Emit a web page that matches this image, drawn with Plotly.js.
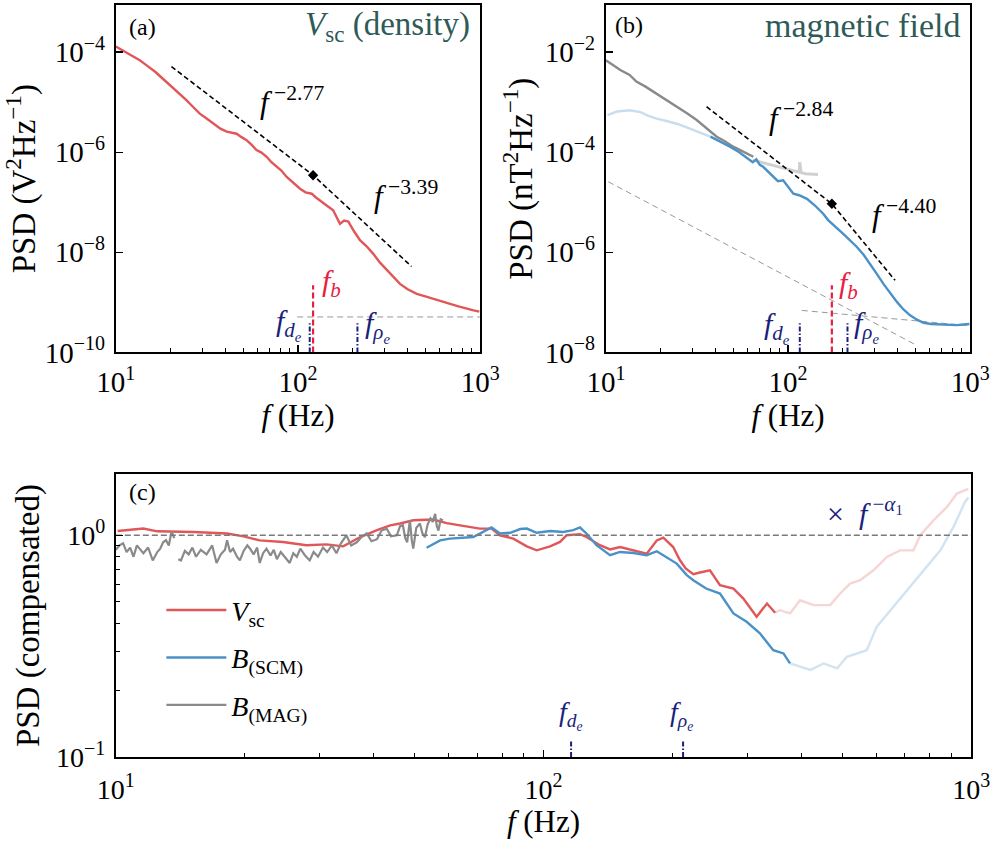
<!DOCTYPE html>
<html><head><meta charset="utf-8">
<script src="https://cdn.plot.ly/plotly-3.0.1.min.js"></script>
<style>html,body{margin:0;padding:0;background:#fff}#chart{width:990px;height:841px}</style>
</head><body><div id="chart"></div>
<script>
// ---------- Panel (a): V_sc PSD ----------
const fA = [10, 11.2, 12.5, 13.6, 14.7, 16.5, 18, 19.8, 22, 24.4, 26.5, 28.9, 31.5, 34.3, 37.5, 40.6, 43, 46, 49, 52.2, 55.5, 59.2, 63, 67.3, 71.5, 76.3, 81, 86.7, 94, 102.6, 110, 118.9, 125, 132, 143, 156, 163, 170, 179, 189, 203, 219, 238, 259, 282, 307, 334, 363, 400, 449, 500, 553, 615, 684, 760, 845, 920, 990];
const psdA = [1.29e-4, 1.02e-4, 8.1e-5, 6.8e-5, 5.5e-5, 4.0e-5, 3.0e-5, 2.19e-5, 1.58e-5, 1.10e-5, 8.1e-6, 5.9e-6, 4.7e-6, 3.7e-6, 2.95e-6, 2.57e-6, 2.45e-6, 2.34e-6, 2.0e-6, 1.74e-6, 1.41e-6, 1.10e-6, 9.8e-7, 8.1e-7, 6.3e-7, 5.1e-7, 4.3e-7, 3.2e-7, 2.5e-7, 1.86e-7, 1.58e-7, 1.48e-7, 1.26e-7, 1.10e-7, 8.7e-8, 6.9e-8, 5.0e-8, 3.7e-8, 4.3e-8, 4.1e-8, 2.63e-8, 1.74e-8, 1.32e-8, 9.3e-9, 6.2e-9, 4.4e-9, 3.16e-9, 2.34e-9, 1.82e-9, 1.48e-9, 1.32e-9, 1.17e-9, 1.05e-9, 9.3e-10, 8.3e-10, 7.4e-10, 6.9e-10, 6.5e-10];
const fitAf = [20.2, 121, 420];
const fitApsd = [5.13e-5, 3.47e-7, 5.2e-9];
const noiseAf = [99, 1000];
const noiseApsd = [5.1e-10, 5.1e-10];

// ---------- Panel (b): magnetic field PSD ----------
const fMag = [10, 11, 12, 13.5, 14.7, 16.5, 19, 21.5, 24.5, 28, 31.5, 35.5, 40.6, 45, 50, 56, 64.5];
const psdMag = [6.9e-3, 5.4e-3, 4.4e-3, 3.5e-3, 2.57e-3, 2.04e-3, 1.48e-3, 1.10e-3, 8.1e-4, 5.9e-4, 4.4e-4, 3.0e-4, 2.04e-4, 1.66e-4, 1.29e-4, 1.05e-4, 8.1e-5];
const fMagX = [64.5, 75, 85, 95, 105, 115, 116, 118, 125, 135, 146];
const psdMagX = [6.9e-5, 6.0e-5, 5.2e-5, 4.7e-5, 4.3e-5, 4.0e-5, 6.3e-5, 3.9e-5, 3.7e-5, 3.6e-5, 3.6e-5];
const fScmLo = [10.2, 11.5, 13.5, 15.5, 17, 19, 21.5, 24.5, 28, 31.5, 34.5, 37.5];
const psdScmLo = [5.5e-4, 6.5e-4, 6.9e-4, 6.3e-4, 5.4e-4, 4.7e-4, 4.2e-4, 3.7e-4, 3.1e-4, 2.57e-4, 2.29e-4, 2.04e-4];
const fScm = [37.5, 42, 48, 54, 60, 64, 67, 70, 73, 78, 83, 88, 94, 100, 107, 115, 127, 140, 156, 166, 177, 188, 201, 218, 238, 260, 282, 307, 334, 364, 396, 430, 468, 510, 554, 610, 684, 760, 845, 920, 990];
const psdScm = [2.04e-4, 1.66e-4, 1.29e-4, 1.0e-4, 7.4e-5, 6.3e-5, 7.2e-5, 5.6e-5, 5.1e-5, 4.0e-5, 3.16e-5, 2.63e-5, 2.75e-5, 2.0e-5, 1.48e-5, 1.38e-5, 1.17e-5, 8.7e-6, 5.9e-6, 4.4e-6, 3.5e-6, 2.9e-6, 2.34e-6, 1.78e-6, 1.29e-6, 8.9e-7, 5.9e-7, 3.7e-7, 2.34e-7, 1.51e-7, 1.02e-7, 7.2e-8, 5.5e-8, 4.5e-8, 3.9e-8, 3.7e-8, 3.6e-8, 3.55e-8, 3.5e-8, 3.6e-8, 3.7e-8];
const fitBf = [35.7, 174, 387];
const fitBpsd = [8.1e-4, 9.3e-6, 2.75e-7];
const noiseB1f = [10.3, 509];
const noiseB1psd = [2.57e-5, 1.38e-8];
const noiseB2f = [119, 1000];
const noiseB2psd = [6.9e-8, 3.4e-8];

// ---------- Characteristic frequencies ----------
const fDe = 116;
const fRhoE = 212;
const fbA = 121;
const fbB = 174;

// ---------- Panel (c): compensated spectra ----------
const fVc = [10.1, 11.6, 12.5, 15.2, 18.2, 19.9, 21.7, 24.6, 27.9, 31.1, 34.0, 37.3, 40.8, 43.8, 46.2, 49.6, 55.2, 59.4, 63.8, 71.0, 75.6, 79.1, 85.0, 91.4, 96.4, 103.6, 109.3, 113.3, 121.7, 126, 135.5, 143.1, 151, 162.3, 174.3, 184, 190.6, 201, 208.5, 215, 224, 232, 245, 258.6, 278, 293, 315, 333, 348];
const cVc = [1.045, 1.072, 1.042, 1.035, 1.019, 0.989, 0.948, 0.933, 0.902, 0.910, 0.891, 0.982, 1.054, 1.109, 1.130, 1.169, 1.178, 1.135, 1.109, 1.072, 1.072, 1.0, 0.966, 0.891, 0.855, 0.891, 0.933, 1.0, 1.012, 0.982, 0.902, 0.863, 0.885, 0.855, 0.826, 0.948, 0.975, 0.885, 0.771, 0.708, 0.668, 0.679, 0.695, 0.596, 0.575, 0.519, 0.429, 0.492, 0.447];
const fVcX = [348, 357, 377, 398, 428, 468, 494, 521, 550, 591, 635, 682, 733, 760, 817, 878, 926, 967, 985];
const cVcX = [0.447, 0.459, 0.444, 0.509, 0.484, 0.484, 0.546, 0.605, 0.627, 0.695, 0.798, 0.855, 0.855, 1.0, 1.169, 1.343, 1.542, 1.596, 1.62];
const fBc = [53.3, 57.3, 60.4, 68.5, 75.6, 79.1, 83.6, 88.2, 91.4, 96.4, 103.6, 111.2, 117.4, 121.7, 126, 133, 143.1, 151, 162.3, 174.3, 184, 194.2, 204.9, 216.3, 224, 240, 258.6, 278, 298.5, 320.6, 344.5, 364, 377];
const cBc = [0.879, 0.948, 0.966, 0.982, 1.084, 1.019, 1.026, 1.067, 1.072, 1.026, 1.045, 1.035, 1.054, 1.084, 1.019, 0.902, 0.813, 0.841, 0.832, 0.813, 0.847, 0.792, 0.745, 0.661, 0.627, 0.575, 0.546, 0.444, 0.407, 0.361, 0.303, 0.293, 0.264];
const fBcX = [377, 398, 421, 452, 486, 512, 570, 601, 647, 708, 774, 847, 909, 967, 985];
const cBcX = [0.264, 0.255, 0.247, 0.264, 0.251, 0.283, 0.303, 0.386, 0.459, 0.565, 0.695, 0.855, 1.091, 1.413, 1.48];
const fMc = [10.0, 10.2, 10.4, 10.6, 10.8, 11.0, 11.2, 11.4, 11.6, 11.9, 12.2, 12.5, 12.7, 12.9, 13.1, 13.3, 13.5, 13.7, 13.85, 14.0, 14.2, 14.5, 14.8, 15.1, 15.4, 15.8, 16.3, 16.8, 17.2, 17.6, 18.0, 18.2, 18.5, 18.8, 19.2, 19.5, 19.9, 20.3, 20.6, 21.0, 21.4, 21.7, 22.1, 22.5, 23.0, 23.4, 23.8, 24.3, 24.8, 25.5, 26.0, 26.5, 27.0, 27.7, 28.4, 29.0, 29.7, 30.5, 31.2, 32.0, 32.8, 33.6, 34.6, 35.5, 36.6, 37.5, 38.6, 39.6, 40.8, 41.8, 43.0, 44.0, 45.4, 46.2, 46.9, 47.5, 48.0, 48.7, 49.2, 49.6, 50.4, 51.4, 52.1, 52.8, 53.6, 54.4, 55.1, 55.8, 56.3, 56.8, 57.5, 58.2];
const cMc = [0.86, 0.90, 0.92, 0.84, 0.88, 0.80, 0.90, 0.86, 0.83, 0.88, 0.77, 0.84, 0.87, 0.93, 0.95, 0.90, 1.04, 0.97, null, 0.78, 0.77, 0.85, 0.82, 0.88, 0.80, 0.86, 0.82, 0.90, 0.75, 0.82, 0.86, 0.95, 0.84, 0.87, 0.80, 0.77, 0.85, 0.90, 0.87, 0.82, 0.88, 0.75, 0.83, 0.87, 0.81, 0.86, 0.78, 0.84, 0.80, 0.75, 0.83, 0.80, 0.87, 0.81, 0.77, 0.84, 0.80, 0.88, 0.84, 0.90, 0.83, 0.92, 1.0, 0.90, 0.93, 0.98, 1.02, 0.94, 0.96, 1.05, 1.07, 0.99, 1.00, 1.10, 1.11, 0.97, 0.93, 1.17, 0.95, 0.87, 1.08, 1.13, 1.02, 0.98, 1.12, 1.19, 1.15, 1.25, 1.10, 1.05, 1.18, 1.17];
const unityF = [10, 1000];
const unityC = [1, 1];

// ---------- Tick labels ----------
function pow10(e) { return '10<sup><span style="font-size:20px">' + e + '</span></sup>'; }
const xTickVals = [10, 100, 1000];
const xTickText = [pow10('1'), pow10('2'), pow10('3')];
const xMinor = [20, 30, 40, 50, 60, 70, 80, 90, 200, 300, 400, 500, 600, 700, 800, 900];
const yTickValsA = [1e-10, 1e-8, 1e-6, 1e-4];
const yTickTextA = [pow10('−10'), pow10('−8'), pow10('−6'), pow10('−4')];
const yTickValsB = [1e-8, 1e-6, 1e-4, 1e-2];
const yTickTextB = [pow10('−8'), pow10('−6'), pow10('−4'), pow10('−2')];
const yTickValsC = [0.1, 1];
const yTickTextC = [pow10('−1'), pow10('0')];
const yMinorC = [0.2, 0.3, 0.4, 0.5, 0.6, 0.7, 0.8, 0.9];

// ---------- Styles ----------
const RED = '#E15759', BLUE = '#4A91C7', GRAY = '#8A8A8A';
const RED_F = 'rgba(225,87,89,0.25)', BLUE_F = 'rgba(74,145,199,0.25)';
const NAVY = '#1B1F7A', CRIMSON = '#E8203F', TEAL = '#2E5A58';
const SERIF = 'Liberation Serif, DejaVu Serif, serif';

function line(x, y, xa, ya, color, width, dash, extra) {
  return Object.assign({x: x, y: y, xaxis: xa, yaxis: ya, mode: 'lines', type: 'scatter',
    line: {color: color, width: width, dash: dash || 'solid'}, showlegend: false, hoverinfo: 'skip'}, extra || {});
}
const DASHDOT = '5px,2px,1.5px,2px';
const traces = [
  // legend traces (panel c)
  line(fVc, cVc, 'x3', 'y3', RED, 2.4, null, {showlegend: true, legendgroup: 'g1', name: '<i>V</i><sub>sc</sub>'}),
  line(fBc, cBc, 'x3', 'y3', BLUE, 2.4, null, {showlegend: true, legendgroup: 'g2', name: '<i>B</i><sub>(SCM)</sub>'}),
  line(fMc, cMc, 'x3', 'y3', GRAY, 2.2, null, {showlegend: true, legendgroup: 'g3', name: '<i>B</i><sub>(MAG)</sub>'}),
  line(fVcX, cVcX, 'x3', 'y3', RED_F, 2.4),
  line(fBcX, cBcX, 'x3', 'y3', BLUE_F, 2.4),
  line(unityF, unityC, 'x3', 'y3', '#7a7a7a', 1.3, '6px,3px'),
  line([fDe, fDe], [0.1, 0.119], 'x3', 'y3', NAVY, 2, DASHDOT),
  line([fRhoE, fRhoE], [0.1, 0.119], 'x3', 'y3', NAVY, 2, DASHDOT),
  // panel a
  line(noiseAf, noiseApsd, 'x', 'y', '#999', 1, '6px,4px'),
  line(fA, psdA, 'x', 'y', RED, 2.4),
  line(fitAf, fitApsd, 'x', 'y', '#000', 1.6, '5px,3px'),
  {x: [fitAf[1]], y: [fitApsd[1]], xaxis: 'x', yaxis: 'y', mode: 'markers', type: 'scatter',
   marker: {symbol: 'diamond', size: 8, color: '#000'}, showlegend: false, hoverinfo: 'skip'},
  line([fbA, fbA], [1e-10, 2.2e-9], 'x', 'y', CRIMSON, 2.2, '6px,3px'),
  line([fDe, fDe], [1e-10, 3.8e-10], 'x', 'y', NAVY, 2, DASHDOT),
  line([fRhoE, fRhoE], [1e-10, 3.8e-10], 'x', 'y', NAVY, 2, DASHDOT),
  // panel b
  line(noiseB1f, noiseB1psd, 'x2', 'y2', '#999', 1, '6px,4px'),
  line(noiseB2f, noiseB2psd, 'x2', 'y2', '#999', 1, '6px,4px'),
  line(fScmLo, psdScmLo, 'x2', 'y2', 'rgba(74,145,199,0.3)', 2.4),
  line(fMagX, psdMagX, 'x2', 'y2', 'rgba(150,150,150,0.45)', 3),
  line(fMag, psdMag, 'x2', 'y2', GRAY, 2.4),
  line(fScm, psdScm, 'x2', 'y2', BLUE, 2.4),
  line(fitBf, fitBpsd, 'x2', 'y2', '#000', 1.6, '5px,3px'),
  {x: [fitBf[1]], y: [fitBpsd[1]], xaxis: 'x2', yaxis: 'y2', mode: 'markers', type: 'scatter',
   marker: {symbol: 'diamond', size: 8, color: '#000'}, showlegend: false, hoverinfo: 'skip'},
  line([fbB, fbB], [1e-8, 2.2e-7], 'x2', 'y2', CRIMSON, 2.2, '6px,3px'),
  line([fDe, fDe], [1e-8, 3.8e-8], 'x2', 'y2', NAVY, 2, DASHDOT),
  line([fRhoE, fRhoE], [1e-8, 3.8e-8], 'x2', 'y2', NAVY, 2, DASHDOT)
];

function xax(domain, anchor, titleStandoff, fontSize, labelStandoff) {
  return {type: 'log', range: [1, 3], domain: domain, anchor: anchor,
    tickmode: 'array', tickvals: xTickVals, ticktext: xTickText, ticklabeloverflow: 'allow',
    ticks: 'inside', ticklen: 7, tickwidth: 1.3, tickcolor: '#000', ticklabelstandoff: labelStandoff,
    minor: {tickvals: xMinor, ticks: 'inside', ticklen: 4, tickwidth: 1, tickcolor: '#000'},
    showline: true, mirror: true, linewidth: 2, linecolor: '#000',
    showgrid: false, zeroline: false, tickfont: {family: SERIF, size: fontSize, color: '#000'},
    title: {text: '<i>f</i> (Hz)', font: {family: SERIF, size: 31, color: '#000'}, standoff: titleStandoff}};
}
function yax(domain, anchor, range, vals, text, title, fontSize, standoff, minor) {
  const a = {type: 'log', range: range, domain: domain, anchor: anchor,
    tickmode: 'array', tickvals: vals, ticktext: text, ticklabeloverflow: 'allow',
    ticks: 'inside', ticklen: 7, tickwidth: 1.3, tickcolor: '#000', ticklabelstandoff: 3,
    showline: true, mirror: true, linewidth: 2, linecolor: '#000',
    showgrid: false, zeroline: false, tickfont: {family: SERIF, size: fontSize, color: '#000'},
    title: {text: title, font: {family: SERIF, size: 33, color: '#000'}, standoff: standoff}};
  if (minor) a.minor = {tickvals: minor, ticks: 'inside', ticklen: 4, tickwidth: 1, tickcolor: '#000'};
  return a;
}

function ann(text, x, y, xanchor, size, color) {
  return {text: text, x: x, y: y, xref: 'paper', yref: 'paper', xanchor: xanchor, yanchor: 'middle',
    showarrow: false, font: {family: SERIF, size: size, color: color || '#000'}};
}
const DE = '<i>f</i><sub><i>d</i><sub><i>e</i></sub></sub>';
const RHOE = '<i>f</i><sub><i>ρ</i><sub><i>e</i></sub></sub>';
const FB = '<i>f</i><sub><i>b</i></sub>';

const layout = {
  width: 990, height: 841,
  margin: {l: 0, r: 0, t: 0, b: 0},
  paper_bgcolor: '#fff', plot_bgcolor: '#fff',
  font: {family: SERIF, color: '#000'},
  xaxis: xax([0.117, 0.485], 'y', 0, 29, 3),
  yaxis: yax([0.581, 0.994], 'x', [-10, -3.06], yTickValsA, yTickTextA, 'PSD (V<sup>2</sup>Hz<sup>−1</sup>)', 29, 2),
  xaxis2: xax([0.612, 0.980], 'y2', 0, 29, 3),
  yaxis2: yax([0.581, 0.994], 'x2', [-8, -1.06], yTickValsB, yTickTextB, 'PSD (nT<sup>2</sup>Hz<sup>−1</sup>)', 29, 2),
  xaxis3: xax([0.117, 0.981], 'y3', 2, 28, 6),
  yaxis3: yax([0.100, 0.436], 'x3', [-1, 0.275], yTickValsC, yTickTextC, 'PSD (compensated)', 28, 6, yMinorC),
  legend: {x: 0.163, y: 0.304, xanchor: 'left', yanchor: 'top', bgcolor: 'rgba(0,0,0,0)',
    font: {family: SERIF, size: 28, color: '#000'}, tracegroupgap: 8, itemwidth: 60},
  annotations: [
    ann('(a)', 0.128, 0.968, 'left', 24),
    ann('<i>V</i><sub>sc</sub> (density)', 0.477, 0.968, 'right', 33, TEAL),
    ann('<i>f</i><sup> −2.77</sup>', 0.261, 0.881, 'left', 31),
    ann('<i>f</i><sup> −3.39</sup>', 0.376, 0.769, 'left', 31),
    ann(FB, 0.323, 0.663, 'left', 30, CRIMSON),
    ann(DE, 0.307, 0.614, 'right', 30, NAVY),
    ann(RHOE, 0.367, 0.612, 'left', 30, NAVY),
    ann('(b)', 0.619, 0.970, 'left', 24),
    ann('magnetic field', 0.972, 0.970, 'right', 34, TEAL),
    ann('<i>f</i><sup> −2.84</sup>', 0.775, 0.861, 'left', 31),
    ann('<i>f</i><sup> −4.40</sup>', 0.879, 0.746, 'left', 31),
    ann(FB, 0.845, 0.661, 'left', 30, CRIMSON),
    ann(DE, 0.800, 0.611, 'right', 30, NAVY),
    ann(RHOE, 0.861, 0.612, 'left', 30, NAVY),
    ann('(c)', 0.128, 0.415, 'left', 24),
    ann('×  <i>f</i><sup> −<i>α</i><sub>1</sub></sup>', 0.833, 0.392, 'left', 30, NAVY),
    ann(DE, 0.577, 0.150, 'center', 28, NAVY),
    ann(RHOE, 0.688, 0.150, 'center', 28, NAVY)
  ]
};

Plotly.newPlot('chart', traces, layout, {displayModeBar: false, staticPlot: true});
</script></body></html>
